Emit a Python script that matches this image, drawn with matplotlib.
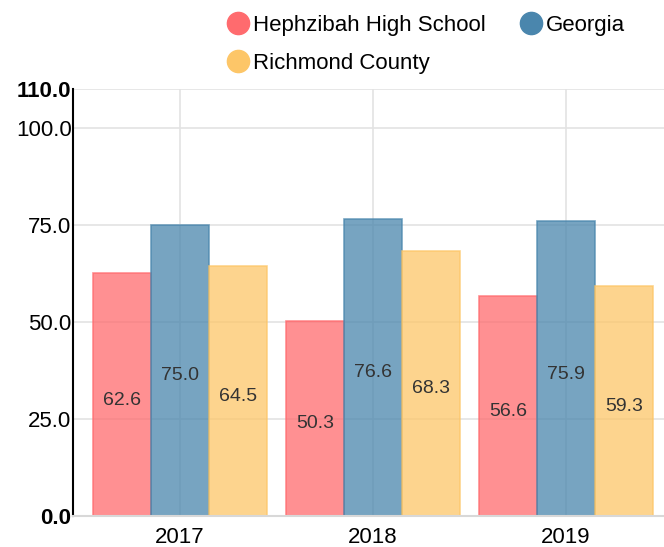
import numpy as np
import matplotlib.pyplot as plt
from matplotlib.lines import Line2D

plt.rcParams['font.family'] = ['Liberation Sans', 'DejaVu Sans']

# dati
anni = ['2017', '2018', '2019']
serie = ['Hephzibah High School', 'Georgia', 'Richmond County']
hephzibah = [62.6, 50.3, 56.6]
georgia = [75.0, 76.6, 75.9]
richmond = [64.5, 68.3, 59.3]
valori = [hephzibah, georgia, richmond]
yticks = [0, 25, 50, 75, 100, 110]

colori = ['#ff6b6e', '#4a86ad', '#fdc668']

W, H = 664, 547
fig = plt.figure(figsize=(W / 100, H / 100), dpi=100)
ax = fig.add_axes([73 / W, (H - 516) / H, (664 - 73) / W, (516 - 89) / H])

x = np.arange(len(anni))
larghezza = 0.3
for i, (vals, col) in enumerate(zip(valori, colori)):
    pos = x + (i - 1) * larghezza
    bars = ax.bar(pos, vals, width=larghezza, color=col, alpha=0.75,
                  edgecolor=col, linewidth=1.2, zorder=3)
    for b, v in zip(bars, vals):
        ax.annotate(f'{v:.1f}', (b.get_x() + b.get_width() / 2, v / 2),
                    xytext=(0, -4), textcoords='offset points',
                    ha='center', va='center', fontsize=14, color='#333333', zorder=4)

ax.set_xlim(-0.554, 2.508)
ax.set_ylim(0, 110)
ax.set_xticks(x)
ax.set_xticklabels(anni, fontsize=16)
ax.set_yticks(yticks)
ax.set_yticklabels([f'{t:.1f}' for t in yticks], fontsize=16)
for lbl in ax.get_yticklabels():
    if lbl.get_text() in ('0.0', '110.0'):
        lbl.set_fontweight('bold')
ax.tick_params(axis='y', length=0, pad=1)
ax.tick_params(axis='x', length=0, pad=8)
ax.grid(True, color='#e3e3e3', linewidth=1.2, zorder=0)
ax.set_axisbelow(True)
for s in ['top', 'right']:
    ax.spines[s].set_visible(False)
ax.spines['bottom'].set_color('#d8d8d8')
ax.spines['bottom'].set_linewidth(1.5)
ax.spines['left'].set_color('black')
ax.spines['left'].set_linewidth(1.5)
ax.spines['bottom'].set_zorder(5)

# legenda manuale
voci = [(238, 22, serie[0], colori[0]), (531, 22, serie[1], colori[1]),
        (238, 60, serie[2], colori[2])]
for px, py, testo, col in voci:
    fig.add_artist(Line2D([px / W], [1 - (py + 1) / H], marker='o', markersize=16,
                          color=col, linestyle='none', transform=fig.transFigure))
    fig.text((px + 15) / W, 1 - (py + 3) / H, testo, fontsize=16, va='center', ha='left')

fig.savefig('out.png', dpi=100)
